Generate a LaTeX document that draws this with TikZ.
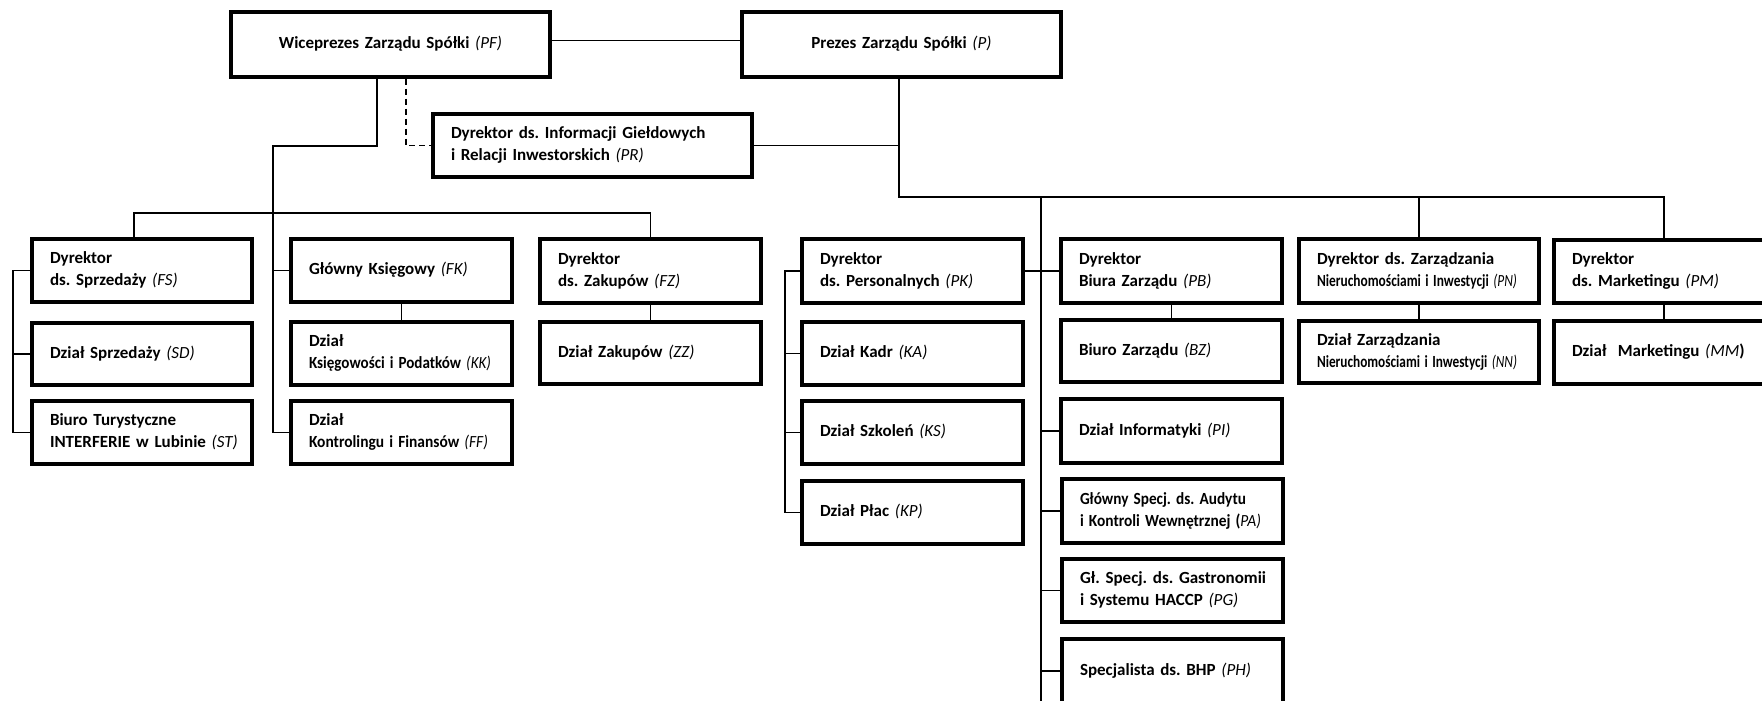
\documentclass[tikz,border=0pt]{standalone}
\usepackage{fontspec}
\setmainfont{Carlito}
\usepackage{graphicx}
\newcommand\ab[1]{{\mdseries\itshape #1}}
\newcommand\sq[2]{\resizebox{#1pt}{\height}{#2}}
\newcommand\orgbox[7][]{%
 \pgfmathsetmacro\obw{#5-#3-36}%
 \pgfmathsetmacro\obh{#6-#4}%
 \pgfmathsetmacro\obx{(#3+#5)/2}%
 \pgfmathsetmacro\oby{(#4+#6)/2}%
 \node[box,#1,text width=\obw pt,minimum height=\obh pt] (#2) at (\obx,\oby)
   {\begin{tabular}{@{}l@{}}#7\end{tabular}};}
\tikzset{
 box/.style={draw, line width=3.3pt, inner xsep=18pt, inner ysep=0pt, align=left,
   font=\bfseries\fontsize{17}{22}\selectfont\frenchspacing},
 con/.style={line width=1.4pt},
}
\begin{document}
\begin{tikzpicture}[x=1pt,y=-1pt]
\useasboundingbox (0,0) rectangle (1762,701);
\clip (0,0) rectangle (1762,701);
% top
\orgbox[align=center]{PF}{231}{12}{550}{77}{Wiceprezes Zarządu Spółki \ab{(PF)}}
\orgbox[align=center]{P}{742}{12}{1061}{77}{Prezes Zarządu Spółki \ab{(P)}}
\orgbox{PR}{433}{114}{752}{177}{Dyrektor ds. Informacji Giełdowych\\i Relacji Inwestorskich \ab{(PR)}}
% left group
\orgbox{FS}{32}{239}{252}{302}{Dyrektor\\ds. Sprzedaży \ab{(FS)}}
\orgbox{SD}{32}{323}{252}{385}{Dział Sprzedaży \ab{(SD)}}
\orgbox{ST}{32}{401}{252}{464}{Biuro Turystyczne\\INTERFERIE w Lubinie \ab{(ST)}}
\orgbox{FK}{291}{239}{512}{302}{Główny Księgowy \ab{(FK)}}
\orgbox{KK}{291}{322}{512}{385}{Dział\\\sq{182}{Księgowości i Podatków \ab{(KK)}}}
\orgbox{FF}{291}{401}{512}{464}{Dział\\\sq{179}{Kontrolingu i Finansów \ab{(FF)}}}
\orgbox{FZ}{540}{239}{761}{303}{Dyrektor\\ds. Zakupów \ab{(FZ)}}
\orgbox{ZZ}{540}{322}{761}{384}{Dział Zakupów \ab{(ZZ)}}
% personnel
\orgbox{PK}{802}{239}{1023}{303}{Dyrektor\\ds. Personalnych \ab{(PK)}}
\orgbox{KA}{802}{322}{1023}{385}{Dział Kadr \ab{(KA)}}
\orgbox{KS}{802}{401}{1023}{464}{Dział Szkoleń \ab{(KS)}}
\orgbox{KP}{802}{481}{1023}{544}{Dział Płac \ab{(KP)}}
% board office column
\orgbox{PB}{1061}{239}{1282}{303}{Dyrektor\\Biura Zarządu \ab{(PB)}}
\orgbox{BZ}{1061}{320}{1282}{382}{Biuro Zarządu \ab{(BZ)}}
\orgbox{PI}{1061}{399}{1282}{463}{Dział Informatyki \ab{(PI)}}
\orgbox{PA}{1062}{479}{1283}{543}{\sq{166}{Główny Specj. ds. Audytu}\\\sq{181}{i Kontroli Wewnętrznej (\ab{PA)}}}
\orgbox{PG}{1062}{559}{1283}{622}{Gł. Specj. ds. Gastronomii\\i Systemu HACCP \ab{(PG)}}
\orgbox{PH}{1062}{639}{1283}{703}{Specjalista ds. BHP \ab{(PH)}}
% right
\orgbox{PN}{1299}{239}{1539}{303}{Dyrektor ds. Zarządzania\\\sq{200}{Nieruchomościami i Inwestycji \ab{(PN)}}}
\orgbox{NN}{1299}{321}{1539}{383}{Dział Zarządzania\\\sq{200}{Nieruchomościami i Inwestycji \ab{(NN)}}}
\orgbox{PM}{1554}{240}{1774}{303}{Dyrektor\\ds. Marketingu \ab{(PM)}}
\orgbox{MM}{1554}{321}{1774}{384}{Dział~~Marketingu \ab{(MM})}
% helper coordinates
\coordinate (pfa) at (377,0);
\coordinate (dsx) at (406,0);
\coordinate (trk) at (273,0);
\coordinate (y146) at (0,146);
\coordinate (lb) at (134,0);
\coordinate (bus1) at (0,213);
\coordinate (brL) at (13,0);
\coordinate (ptr) at (899,0);
\coordinate (bus2) at (0,197);
\coordinate (vx) at (1041,0);
\coordinate (vbot) at (1041,705);
\coordinate (brP) at (785,0);
% connectors
\draw[con] ([yshift=4pt]PF.east) -- ([yshift=4pt]P.west);
\draw[con] (PF.south -| pfa) |- (trk |- y146) |- (FF.west);
\draw[con] (FK.west -| trk) -- (FK.west);
\draw[con] (FS.north -| lb) |- (FZ.north |- bus1) -- (FZ.north);
\draw[con] (FS.west) -| (brL |- ST.west) -- (ST.west);
\draw[con] (SD.west -| brL) -- (SD.west);
\draw[con] (FK.south) -- (KK.north);
\draw[con] (FZ.south) -- (ZZ.north);
\draw[con, dash pattern=on 6pt off 4pt] (PF.south -| dsx) |- (PR.west);
\draw[con] (PR.east) -- (PR.east -| ptr);
\draw[con] (P.south -| ptr) |- (PM.north |- bus2) -- (PM.north);
\draw[con] (bus2 -| vx) -- (vbot);
\draw[con] (PN.north |- bus2) -- (PN.north);
\draw[con] (PK.east) -- (PB.west);
\draw[con] (PI.west -| vx) -- (PI.west);
\draw[con] (PA.west -| vx) -- (PA.west);
\draw[con] (PG.west -| vx) -- (PG.west);
\draw[con] (PH.west -| vx) -- (PH.west);
\draw[con] (PB.south) -- (BZ.north);
\draw[con] (PN.south) -- (NN.north);
\draw[con] (PM.south) -- (MM.north);
\draw[con] (PK.west) -| (brP |- KP.west) -- (KP.west);
\draw[con] (KA.west -| brP) -- (KA.west);
\draw[con] (KS.west -| brP) -- (KS.west);
\end{tikzpicture}
\end{document}
